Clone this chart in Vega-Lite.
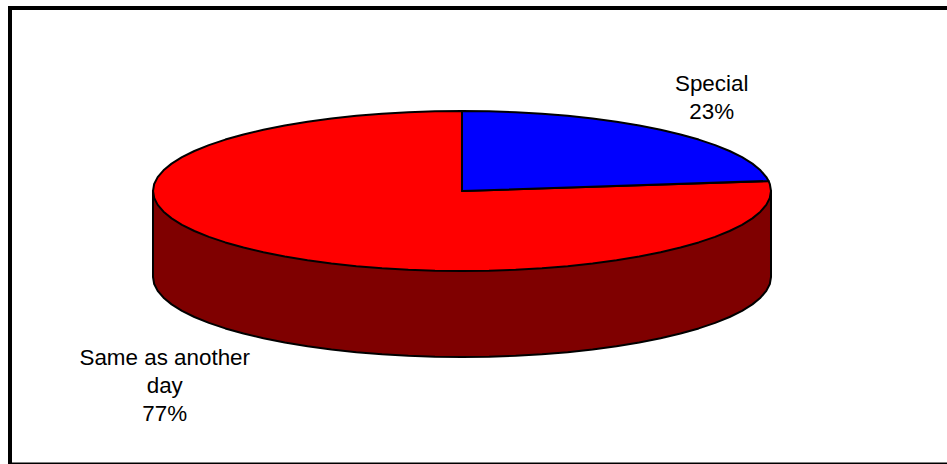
{
  "$schema": "https://vega.github.io/schema/vega-lite/v6.json",
  "autosize": "none",
  "padding": {"left": 10, "top": 8, "right": 0, "bottom": 0},
  "width": 940,
  "height": 456.5,
  "background": "#ffffff",
  "view": {"stroke": "#000000", "strokeWidth": 4, "fill": null},
  "datasets": {
    "outlines": [
      {"part":"Side","x":-1,"y":0},
      {"part":"Side","x":-1,"y":-1.075},
      {"part":"Side","x":-0.9962,"y":-1.1622},
      {"part":"Side","x":-0.9848,"y":-1.2486},
      {"part":"Side","x":-0.9659,"y":-1.3338},
      {"part":"Side","x":-0.9397,"y":-1.417},
      {"part":"Side","x":-0.9063,"y":-1.4976},
      {"part":"Side","x":-0.866,"y":-1.575},
      {"part":"Side","x":-0.8192,"y":-1.6486},
      {"part":"Side","x":-0.766,"y":-1.7178},
      {"part":"Side","x":-0.7071,"y":-1.7821},
      {"part":"Side","x":-0.6428,"y":-1.841},
      {"part":"Side","x":-0.5736,"y":-1.8942},
      {"part":"Side","x":-0.5,"y":-1.941},
      {"part":"Side","x":-0.4226,"y":-1.9813},
      {"part":"Side","x":-0.342,"y":-2.0147},
      {"part":"Side","x":-0.2588,"y":-2.0409},
      {"part":"Side","x":-0.1736,"y":-2.0598},
      {"part":"Side","x":-0.0872,"y":-2.0712},
      {"part":"Side","x":0,"y":-2.075},
      {"part":"Side","x":0.0872,"y":-2.0712},
      {"part":"Side","x":0.1736,"y":-2.0598},
      {"part":"Side","x":0.2588,"y":-2.0409},
      {"part":"Side","x":0.342,"y":-2.0147},
      {"part":"Side","x":0.4226,"y":-1.9813},
      {"part":"Side","x":0.5,"y":-1.941},
      {"part":"Side","x":0.5736,"y":-1.8942},
      {"part":"Side","x":0.6428,"y":-1.841},
      {"part":"Side","x":0.7071,"y":-1.7821},
      {"part":"Side","x":0.766,"y":-1.7178},
      {"part":"Side","x":0.8192,"y":-1.6486},
      {"part":"Side","x":0.866,"y":-1.575},
      {"part":"Side","x":0.9063,"y":-1.4976},
      {"part":"Side","x":0.9397,"y":-1.417},
      {"part":"Side","x":0.9659,"y":-1.3338},
      {"part":"Side","x":0.9848,"y":-1.2486},
      {"part":"Side","x":0.9962,"y":-1.1622},
      {"part":"Side","x":1,"y":-1.075},
      {"part":"Side","x":1,"y":0},

      {"part":"Same as another day","x":0,"y":0},
      {"part":"Same as another day","x":0.9921,"y":0.1253},
      {"part":"Same as another day","x":0.9962,"y":0.0872},
      {"part":"Same as another day","x":1,"y":0},
      {"part":"Same as another day","x":0.9962,"y":-0.0872},
      {"part":"Same as another day","x":0.9848,"y":-0.1736},
      {"part":"Same as another day","x":0.9659,"y":-0.2588},
      {"part":"Same as another day","x":0.9397,"y":-0.342},
      {"part":"Same as another day","x":0.9063,"y":-0.4226},
      {"part":"Same as another day","x":0.866,"y":-0.5},
      {"part":"Same as another day","x":0.8192,"y":-0.5736},
      {"part":"Same as another day","x":0.766,"y":-0.6428},
      {"part":"Same as another day","x":0.7071,"y":-0.7071},
      {"part":"Same as another day","x":0.6428,"y":-0.766},
      {"part":"Same as another day","x":0.5736,"y":-0.8192},
      {"part":"Same as another day","x":0.5,"y":-0.866},
      {"part":"Same as another day","x":0.4226,"y":-0.9063},
      {"part":"Same as another day","x":0.342,"y":-0.9397},
      {"part":"Same as another day","x":0.2588,"y":-0.9659},
      {"part":"Same as another day","x":0.1736,"y":-0.9848},
      {"part":"Same as another day","x":0.0872,"y":-0.9962},
      {"part":"Same as another day","x":0,"y":-1},
      {"part":"Same as another day","x":-0.0872,"y":-0.9962},
      {"part":"Same as another day","x":-0.1736,"y":-0.9848},
      {"part":"Same as another day","x":-0.2588,"y":-0.9659},
      {"part":"Same as another day","x":-0.342,"y":-0.9397},
      {"part":"Same as another day","x":-0.4226,"y":-0.9063},
      {"part":"Same as another day","x":-0.5,"y":-0.866},
      {"part":"Same as another day","x":-0.5736,"y":-0.8192},
      {"part":"Same as another day","x":-0.6428,"y":-0.766},
      {"part":"Same as another day","x":-0.7071,"y":-0.7071},
      {"part":"Same as another day","x":-0.766,"y":-0.6428},
      {"part":"Same as another day","x":-0.8192,"y":-0.5736},
      {"part":"Same as another day","x":-0.866,"y":-0.5},
      {"part":"Same as another day","x":-0.9063,"y":-0.4226},
      {"part":"Same as another day","x":-0.9397,"y":-0.342},
      {"part":"Same as another day","x":-0.9659,"y":-0.2588},
      {"part":"Same as another day","x":-0.9848,"y":-0.1736},
      {"part":"Same as another day","x":-0.9962,"y":-0.0872},
      {"part":"Same as another day","x":-1,"y":0},
      {"part":"Same as another day","x":-0.9962,"y":0.0872},
      {"part":"Same as another day","x":-0.9848,"y":0.1736},
      {"part":"Same as another day","x":-0.9659,"y":0.2588},
      {"part":"Same as another day","x":-0.9397,"y":0.342},
      {"part":"Same as another day","x":-0.9063,"y":0.4226},
      {"part":"Same as another day","x":-0.866,"y":0.5},
      {"part":"Same as another day","x":-0.8192,"y":0.5736},
      {"part":"Same as another day","x":-0.766,"y":0.6428},
      {"part":"Same as another day","x":-0.7071,"y":0.7071},
      {"part":"Same as another day","x":-0.6428,"y":0.766},
      {"part":"Same as another day","x":-0.5736,"y":0.8192},
      {"part":"Same as another day","x":-0.5,"y":0.866},
      {"part":"Same as another day","x":-0.4226,"y":0.9063},
      {"part":"Same as another day","x":-0.342,"y":0.9397},
      {"part":"Same as another day","x":-0.2588,"y":0.9659},
      {"part":"Same as another day","x":-0.1736,"y":0.9848},
      {"part":"Same as another day","x":-0.0872,"y":0.9962},
      {"part":"Same as another day","x":0,"y":1},

      {"part":"Special","x":0,"y":0},
      {"part":"Special","x":0,"y":1},
      {"part":"Special","x":0.0872,"y":0.9962},
      {"part":"Special","x":0.1736,"y":0.9848},
      {"part":"Special","x":0.2588,"y":0.9659},
      {"part":"Special","x":0.342,"y":0.9397},
      {"part":"Special","x":0.4226,"y":0.9063},
      {"part":"Special","x":0.5,"y":0.866},
      {"part":"Special","x":0.5736,"y":0.8192},
      {"part":"Special","x":0.6428,"y":0.766},
      {"part":"Special","x":0.7071,"y":0.7071},
      {"part":"Special","x":0.766,"y":0.6428},
      {"part":"Special","x":0.8192,"y":0.5736},
      {"part":"Special","x":0.866,"y":0.5},
      {"part":"Special","x":0.9063,"y":0.4226},
      {"part":"Special","x":0.9397,"y":0.342},
      {"part":"Special","x":0.9659,"y":0.2588},
      {"part":"Special","x":0.9848,"y":0.1736},
      {"part":"Special","x":0.9921,"y":0.1253}
    ],
    "labels": [
      {"label":"Special\n23%","x":0.808,"y":1.254},
      {"label":"Same as another\nday\n77%","x":-0.962,"y":-2.175}
    ]
  },
  "encoding": {
    "x": {"field":"x","type":"quantitative","axis":null,"scale":{"domain":[-1.46278,1.57929],"nice":false,"zero":false}},
    "y": {"field":"y","type":"quantitative","axis":null,"scale":{"domain":[-3.41875,2.2875],"nice":false,"zero":false}}
  },
  "layer": [
    {
      "data": {"name":"outlines"},
      "transform": [{"window":[{"op":"row_number","as":"step"}]}],
      "mark": {"type":"line","filled":true,"interpolate":"linear-closed","stroke":"#000000","strokeWidth":2,"strokeJoin":"round","clip":false},
      "encoding": {
        "order": {"field":"step","type":"quantitative"},
        "color": {
          "field":"part","type":"nominal","legend":null,"sort":null,
          "scale":{"domain":["Side","Same as another day","Special"],"range":["#7f0000","#ff0000","#0000ff"]}
        }
      }
    },
    {
      "data": {"name":"labels"},
      "mark": {"type":"text","font":"Liberation Sans","fontSize":22.4,"lineHeight":28,"lineBreak":"\n","align":"center","baseline":"alphabetic","color":"#000000"},
      "encoding": {"text":{"field":"label","type":"nominal"}}
    }
  ]
}
